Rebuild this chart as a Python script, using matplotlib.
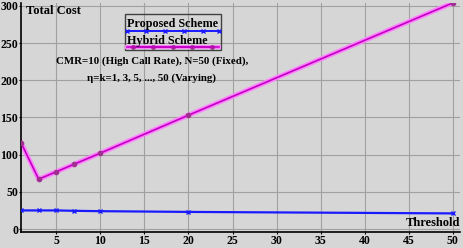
import matplotlib.pyplot as plt
from matplotlib.lines import Line2D
from matplotlib.patches import Rectangle

# data
thresholds = [1, 3, 5, 7, 10, 20, 50]
proposed = [25, 25, 25, 24.5, 24, 23, 21]
hybrid = [116, 67, 77, 87, 102, 153, 304]

xticks = [5, 10, 15, 20, 25, 30, 35, 40, 45, 50]
yticks = [0, 50, 100, 150, 200, 250, 300]

plt.rcParams['font.family'] = ['Liberation Serif', 'DejaVu Serif']
plt.rcParams['font.weight'] = 'bold'

bg = '#d6d6d6'
blue = '#1a1aff'
pink = '#ff80ff'
purple = '#c000c0'
fig = plt.figure(figsize=(4.64, 2.48), dpi=100, facecolor=bg)
ax = fig.add_axes([0.0453, 0.0645, 0.946, 0.924], facecolor=bg)

ax.plot(thresholds, proposed, color=blue, lw=1.6, marker='x', ms=3,
        mew=1, zorder=3)
# hybrid line has a pink halo under it
ax.plot(thresholds, hybrid, color=pink, lw=3.5, zorder=2)
ax.plot(thresholds, hybrid, color=purple, lw=1.2, marker='o', ms=3,
        mfc='#a03090', mec='#a03090', zorder=3)

ax.set_xlim(1, 50.8)
ax.set_ylim(-4, 304)
ax.set_xticks(xticks)
ax.set_yticks(yticks)
ax.grid(True, color='#a0a0a0', lw=0.8)
ax.set_axisbelow(True)
for s in ['top', 'right']:
    ax.spines[s].set_visible(False)
ax.spines['left'].set_linewidth(1.2)
ax.spines['bottom'].set_linewidth(1.2)
ax.tick_params(labelsize=8.5, length=1.5, pad=0.5)

ax.text(0.012, 0.99, 'Total Cost', transform=ax.transAxes, fontsize=9,
        fontweight='bold', va='top', ha='left')
ax.text(1.0, 0.015, 'Threshold', transform=ax.transAxes, fontsize=9,
        fontweight='bold', va='bottom', ha='right')
ax.text(0.298, 0.765, 'CMR=10 (High Call Rate), N=50 (Fixed),\n'
        '\u03b7=k=1, 3, 5, ..., 50 (Varying)', transform=ax.transAxes,
        fontsize=7.8, fontweight='bold', ha='center', va='top',
        linespacing=1.9)

# legend drawn by hand: text above each line sample, in pixel-fraction units
W, H = 464, 248
def fx(px):
    return px / W
def fy(py):
    return 1 - py / H

fig.patches.append(Rectangle((fx(125), fy(50)), fx(96), 36 / H,
                             transform=fig.transFigure, fill=False,
                             ec='#404040', lw=1))
fig.text(fx(127), fy(24), 'Proposed Scheme', fontsize=8.7, fontweight='bold',
         ha='left', va='center')
fig.text(fx(127), fy(41), 'Hybrid Scheme', fontsize=8.7, fontweight='bold',
         ha='left', va='center')
fig.lines.append(Line2D([fx(127), fx(146), fx(165), fx(184), fx(203), fx(219)],
                        [fy(31)] * 6, transform=fig.transFigure, color=blue,
                        lw=1.4, marker='x', ms=2.5))
fig.lines.append(Line2D([fx(127), fx(219)], [fy(47), fy(47)],
                        transform=fig.transFigure, color=pink, lw=3))
fig.lines.append(Line2D([fx(133), fx(153), fx(173), fx(192), fx(212)],
                        [fy(47)] * 5, transform=fig.transFigure,
                        color=purple, lw=1.1, marker='o', ms=2.5,
                        mfc='#a03090', mec='#a03090'))
fig.lines.append(Line2D([fx(127), fx(219)], [fy(47), fy(47)],
                        transform=fig.transFigure, color=purple, lw=1.1))

fig.savefig('out.png', dpi=100, facecolor=bg)
